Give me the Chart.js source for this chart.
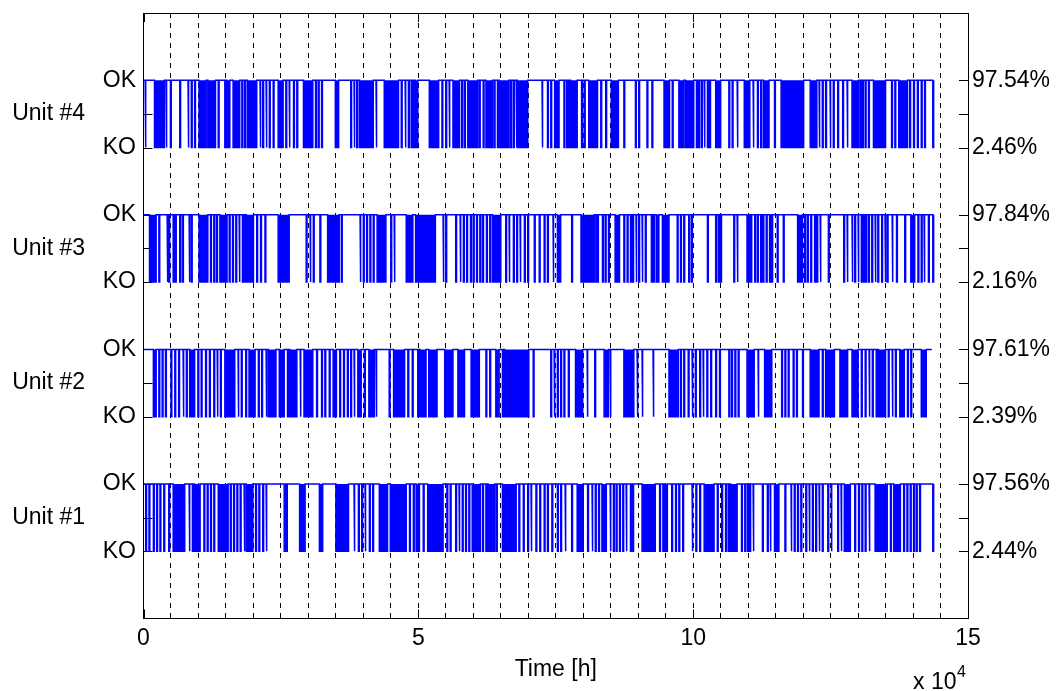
<!DOCTYPE html>
<html>
<head>
<meta charset="utf-8">
<title>Unit availability over time</title>
<script src="https://cdn.jsdelivr.net/npm/chart.js@4.4.1/dist/chart.umd.min.js"></script>
<style>
  html, body { margin: 0; padding: 0; background: #fff; }
  #wrap { width: 1057px; height: 691px; }
</style>
</head>
<body>
<div id="wrap"><canvas id="chartUnits" width="1057" height="691"></canvas></div>
<script>
// unit labels and availability / unavailability, bottom (Unit #1) to top (Unit #4)
const unitNames = ['Unit #1', 'Unit #2', 'Unit #3', 'Unit #4'];
const okPct = [97.56, 97.61, 97.84, 97.54];
const koPct = [2.44, 2.39, 2.16, 2.46];
const seriesEnd = [143700, 143400, 143700, 143700]; // h, last sample of each unit

// short trips (instants, h) and longer KO stretches [from, to] (h)
const TRIP_H = 150;
const unit1Trips = [400, 1000, 1800, 2400, 3000, 3700, 4600, 8300, 8900, 11000, 11600, 12200, 12800, 15800, 16400, 17000, 17600, 18300, 20400, 21000, 21700, 22300, 25600, 26000, 38300, 39100, 39700, 40300, 41100, 41700, 48400, 49100, 50900, 55200, 55800, 56800, 57400, 58000, 58600, 59200, 61700, 62300, 64200, 68300, 69100, 69900, 70500, 71400, 72100, 72900, 73500, 74300, 75300, 75900, 76700, 77900, 80800, 81600, 82200, 82800, 84900, 85500, 86000, 86600, 87200, 87800, 88600, 89000, 93900, 94500, 96100, 96800, 97400, 98100, 99800, 100500, 101200, 104400, 105200, 105900, 106400, 108800, 109400, 109900, 110300, 110900, 112600, 113500, 114000, 116700, 117800, 118400, 119000, 119600, 120500, 121100, 121700, 122300, 122900, 123500, 124500, 125100, 126300, 126900, 129400, 130100, 130700, 131300, 132000, 135900, 138300, 138900, 139500, 140100, 140600, 141200, 143600];
const unit1Outages = [[5400, 7500], [9300, 10300], [13600, 15400], [18700, 19900], [28400, 29400], [32000, 32600], [35000, 37300], [42900, 44400], [44900, 47800], [49600, 50200], [51700, 54500], [59800, 61300], [62700, 63900], [65300, 67800], [78900, 80000], [83400, 84200], [90700, 93100], [94800, 95300], [102000, 103800], [106800, 108000], [114800, 115600], [127500, 128600], [133100, 135300], [136500, 137700]];

const unit2Trips = [2800, 3400, 4000, 5000, 5700, 6400, 7200, 7800, 9900, 10500, 11300, 12000, 12800, 13400, 14000, 17200, 17800, 18600, 20900, 21500, 22300, 24700, 26200, 28500, 31500, 32400, 33000, 33800, 35700, 36400, 37100, 37700, 38300, 40200, 42300, 44700, 48100, 48900, 49900, 62300, 63000, 65300, 70900, 74100, 74700, 75300, 75900, 76500, 77300, 80700, 82100, 84900, 89800, 90700, 92700, 97700, 98300, 99100, 99800, 100400, 101200, 101800, 102500, 103200, 104100, 104800, 106500, 107000, 107600, 108200, 111800, 116100, 116700, 117300, 118200, 118800, 119900, 123500, 130600, 131300, 132000, 132600, 133300, 135500, 136200, 136800, 139000, 139600];
const unit2Outages = [[1800, 2300], [8400, 9300], [14800, 16600], [19200, 20300], [22700, 24100], [24900, 25600], [26600, 27900], [29200, 30800], [34500, 35100], [39000, 39600], [41000, 42000], [45500, 47500], [50300, 51400], [51900, 53400], [54800, 56300], [57200, 58400], [59600, 61100], [64100, 64700], [65700, 70100], [78600, 79900], [83800, 84600], [87400, 89200], [95600, 97300], [109800, 111100], [113000, 114300], [121300, 122900], [124100, 125700], [126700, 128100], [128900, 130000], [133700, 135000], [137600, 138400], [141500, 142400]];

const unit3Trips = [2800, 4300, 4600, 5400, 5800, 6600, 7100, 8300, 8700, 12200, 12800, 13300, 15600, 16200, 16800, 17400, 18000, 18400, 20600, 21300, 22100, 29600, 30300, 30900, 32100, 36000, 39400, 40000, 40600, 41200, 41800, 45000, 45600, 54500, 55000, 56800, 57600, 58200, 58800, 59500, 60000, 60600, 61200, 61700, 62400, 63000, 65900, 66500, 67300, 67900, 68500, 69300, 69900, 71100, 72000, 72900, 73500, 74500, 77900, 82300, 82600, 83500, 84000, 84600, 87400, 88000, 88600, 89000, 89600, 90100, 90700, 91300, 92400, 92800, 93300, 93600, 97100, 97700, 98300, 99200, 99700, 102600, 104100, 104600, 105000, 107400, 108000, 110500, 111200, 111700, 112300, 112700, 113300, 113900, 114300, 115300, 116400, 120300, 120800, 121400, 122100, 122500, 123100, 124600, 127400, 128000, 128900, 129400, 130000, 130600, 131000, 131400, 131900, 132500, 133100, 133600, 134300, 134900, 135300, 136200, 137000, 138500, 140900, 141500, 142000, 142800, 143600];
const unit3Outages = [[1100, 2300], [10100, 11700], [13900, 15200], [18700, 20000], [24500, 26500], [33500, 35600], [42500, 44100], [47800, 49000], [49500, 53100], [63500, 65000], [75300, 75900], [79600, 82000], [85800, 86600], [94400, 95600], [109800, 110300], [119000, 119900], [139600, 140300]];

const unit4Trips = [300, 4100, 4900, 6600, 8100, 8700, 9300, 13600, 14800, 17900, 18400, 21200, 21700, 22300, 22900, 23600, 25900, 26500, 27300, 27900, 31300, 31800, 32400, 37700, 38300, 38800, 42300, 46900, 47600, 48200, 48700, 49100, 54300, 55000, 55600, 57900, 58400, 61100, 61800, 63800, 64400, 66800, 67300, 67800, 72500, 73500, 74100, 76500, 77000, 77300, 79700, 80200, 83200, 84100, 87400, 89500, 90100, 91600, 92500, 96200, 100600, 101000, 101500, 102000, 102600, 103000, 106500, 107100, 108000, 110900, 111700, 112300, 114800, 122900, 123500, 124100, 124900, 125500, 126300, 127200, 128000, 130400, 130800, 131300, 131900, 136100, 136700, 137400, 139400, 140100, 140800, 141500, 142100, 143600];
const unit4Outages = [[2000, 3800], [10100, 11400], [11700, 13100], [15200, 15700], [16300, 17500], [18900, 20600], [24500, 25400], [29100, 30800], [34900, 35500], [39300, 41800], [43800, 46400], [49500, 49900], [52000, 53700], [56300, 57500], [59000, 60800], [62300, 63500], [64700, 66500], [68000, 69900], [74800, 75600], [77700, 78900], [81000, 82600], [85100, 86400], [94700, 95700], [97400, 98300], [98600, 100100], [104100, 105000], [109300, 110300], [112800, 113800], [116000, 120100], [121300, 122500], [128900, 130100], [132800, 135000], [137600, 139000]];

const unitTrips = [unit1Trips, unit2Trips, unit3Trips, unit4Trips];
const unitOutages = [unit1Outages, unit2Outages, unit3Outages, unit4Outages];

const BLUE = '#0000ff';
const FONT = '"Liberation Sans", Arial, sans-serif';
const TICK_LEN = 9;

// KO level = 2i+1, OK level = 2i+2 for unit index i
const koLevel = i => 2 * i + 1;
const okLevel = i => 2 * i + 2;

function stepPoints(i) {
  const ok = okLevel(i), ko = koLevel(i);
  const spans = unitTrips[i].map(t => [t, t + TRIP_H]).concat(unitOutages[i]).sort((a, b) => a[0] - b[0]);
  const merged = [];
  spans.forEach(s => {
    const last = merged[merged.length - 1];
    if (last && s[0] <= last[1]) last[1] = Math.max(last[1], s[1]);
    else merged.push([s[0], s[1]]);
  });
  const pts = [{ x: 0, y: ok }];
  merged.forEach(([a, b]) => pts.push({ x: a, y: ok }, { x: a, y: ko }, { x: b, y: ko }, { x: b, y: ok }));
  const lastX = merged.length ? merged[merged.length - 1][1] : 0;
  pts.push({ x: Math.max(seriesEnd[i], lastX), y: ok });
  return pts;
}

const innerTicks = {
  id: 'innerTicks',
  beforeDatasetsDraw(chart) {
    const { ctx, chartArea: a, scales: { x, y } } = chart;
    ctx.save();
    ctx.strokeStyle = '#000';
    ctx.lineWidth = 1;
    ctx.beginPath();
    y.ticks.forEach(t => {
      const py = Math.round(y.getPixelForValue(t.value)) + 0.5;
      ctx.moveTo(a.left, py); ctx.lineTo(a.left + TICK_LEN, py);
      ctx.moveTo(a.right, py); ctx.lineTo(a.right - TICK_LEN, py);
    });
    x.ticks.filter(t => t.value % 50000 === 0).forEach(t => {
      const px = Math.round(x.getPixelForValue(t.value)) + 0.5;
      ctx.moveTo(px, a.bottom); ctx.lineTo(px, a.bottom - TICK_LEN);
      ctx.moveTo(px, a.top); ctx.lineTo(px, a.top + TICK_LEN);
    });
    ctx.stroke();
    ctx.restore();
  },
  afterDraw(chart) {
    // axis multiplier "x 10^4"
    const { ctx, chartArea: a } = chart;
    ctx.save();
    ctx.fillStyle = '#000';
    ctx.textBaseline = 'alphabetic';
    ctx.textAlign = 'left';
    ctx.font = '23px ' + FONT;
    ctx.fillText('x 10', a.right - 55, 689);
    ctx.font = '16px ' + FONT;
    ctx.fillText('4', a.right - 11, 677);
    ctx.restore();
  }
};

Chart.defaults.font.family = FONT;
Chart.defaults.font.size = 23;
Chart.defaults.color = '#000';

// fixed box sizes, and no extra room for half labels at the ends
const fixWidth = w => s => { s.width = w; s.paddingTop = 0; s.paddingBottom = 0; };

const yLevelTicks = scale => {
  scale.ticks = unitNames.flatMap((_, i) => [koLevel(i), koLevel(i) + 0.5, okLevel(i)]).map(v => ({ value: v }));
};

new Chart(document.getElementById('chartUnits'), {
  type: 'line',
  data: {
    datasets: unitNames.map((name, i) => ({
      label: name,
      data: stepPoints(i),
      yAxisID: 'y',
      borderColor: BLUE,
      backgroundColor: BLUE,
      borderWidth: 1.5,
      pointRadius: 0,
      tension: 0,
      fill: { value: okLevel(i) }
    }))
  },
  options: {
    responsive: false,
    animation: false,
    devicePixelRatio: 1,
    layout: { padding: { top: 13, right: 0, bottom: 0, left: 0 } },
    plugins: { legend: { display: false }, tooltip: { enabled: false } },
    scales: {
      x: {
        type: 'linear', position: 'bottom', min: 0, max: 150000, z: 1,
        afterFit: s => { s.height = 72.5; },
        grid: {
          color: ctx => (ctx.tick && (ctx.tick.value === 0 || ctx.tick.value === 150000)) ? 'rgba(0,0,0,0)' : '#000',
          lineWidth: 1, drawTicks: false
        },
        border: { display: true, color: '#000', width: 1, dash: [5, 5] },
        ticks: {
          stepSize: 5000, maxTicksLimit: 40, autoSkip: false, maxRotation: 0, minRotation: 0, padding: 6,
          callback: v => (v % 50000 === 0 ? String(v / 10000) : '')
        },
        title: { display: true, text: 'Time [h]', padding: { top: 0, bottom: 8 } }
      },
      xTop: {
        type: 'linear', position: 'top', min: 0, max: 150000,
        afterFit: s => { s.height = 0; },
        grid: { display: false, drawTicks: false },
        border: { display: true, color: '#000', width: 1 },
        ticks: { display: false }
      },
      y: {
        type: 'linear', position: 'left', min: 0, max: 9, weight: 0,
        afterFit: fixWidth(51.5),
        afterBuildTicks: yLevelTicks,
        grid: { display: false, drawTicks: false },
        border: { display: true, color: '#000', width: 1 },
        ticks: {
          autoSkip: false, padding: 7.5,
          callback: v => (Number.isInteger(v) ? (v % 2 === 0 ? 'OK' : 'KO') : '')
        }
      },
      yUnit: {
        type: 'linear', position: 'left', min: 0, max: 9, weight: 1,
        afterFit: fixWidth(92),
        afterBuildTicks: s => { s.ticks = unitNames.map((_, i) => ({ value: koLevel(i) + 0.5 })); },
        grid: { display: false, drawTicks: false },
        border: { display: false },
        ticks: { autoSkip: false, padding: 7, callback: v => unitNames[(v - 1.5) / 2] }
      },
      yPct: {
        type: 'linear', position: 'right', min: 0, max: 9,
        afterFit: fixWidth(89),
        afterBuildTicks: s => { s.ticks = unitNames.flatMap((_, i) => [koLevel(i), okLevel(i)]).map(v => ({ value: v })); },
        grid: { display: false, drawTicks: false },
        border: { display: true, color: '#000', width: 1 },
        ticks: {
          autoSkip: false, padding: 4,
          callback: v => {
            const i = Math.floor((v - 1) / 2);
            return (v % 2 === 0 ? okPct[i] : koPct[i]).toFixed(2) + '%';
          }
        }
      }
    }
  },
  plugins: [innerTicks]
});
</script>
</body>
</html>
